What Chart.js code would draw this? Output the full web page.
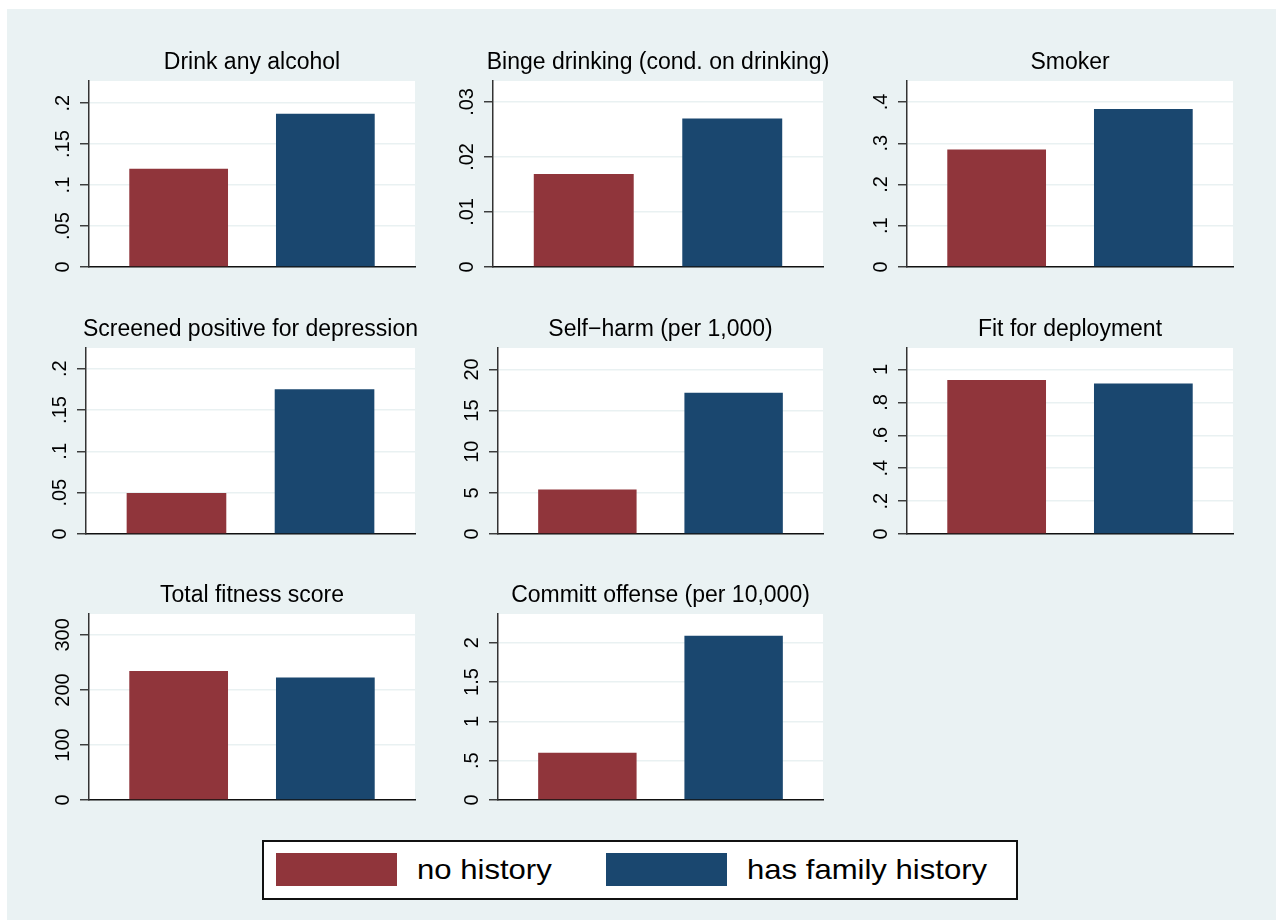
<!DOCTYPE html>
<html><head><meta charset="utf-8">
<script src="https://cdn.jsdelivr.net/npm/chart.js@4.4.1/dist/chart.umd.min.js"></script>
<style>
html,body{margin:0;padding:0;background:#fff;width:1276px;height:924px;overflow:hidden;position:relative;}
#bg{position:absolute;left:7px;top:9px;width:1269px;height:911px;background:#eaf2f3;}
canvas{position:absolute;}
#legend{position:absolute;left:262px;top:840px;width:756px;height:60px;background:#fff;border:2px solid #111;box-sizing:border-box;}
.sw{position:absolute;top:853px;width:121px;height:33px;}
.lt{position:absolute;font-family:'Liberation Sans',Arial,Helvetica,sans-serif;font-size:28px;line-height:28px;top:856px;color:#000;transform:scaleX(1.11);transform-origin:left center;white-space:nowrap;}
</style></head><body>
<div id="bg"></div>
<div id="legend"></div>
<script>
// ---- data ----
const panelTitles = ["Drink any alcohol", "Binge drinking (cond. on drinking)", "Smoker",
  "Screened positive for depression", "Self\u2212harm (per 1,000)", "Fit for deployment",
  "Total fitness score", "Committ offense (per 10,000)"];
const seriesNames = ["no history", "has family history"];
const noHistory     = [0.120, 0.0169, 0.285, 0.0496, 5.4, 0.937, 234.5, 0.602];
const familyHistory = [0.187, 0.0270, 0.383, 0.175, 17.15, 0.915, 222.4, 2.09];
const yMax = [0.227, 0.0338, 0.451, 0.225, 22.6, 1.131, 338, 2.366];
const tickValues = [
  [0, .05, .1, .15, .2], [0, .01, .02, .03], [0, .1, .2, .3, .4],
  [0, .05, .1, .15, .2], [0, 5, 10, 15, 20], [0, .2, .4, .6, .8, 1],
  [0, 100, 200, 300], [0, .5, 1, 1.5, 2]];
const tickLabels = [
  ["0", ".05", ".1", ".15", ".2"], ["0", ".01", ".02", ".03"], ["0", ".1", ".2", ".3", ".4"],
  ["0", ".05", ".1", ".15", ".2"], ["0", "5", "10", "15", "20"], ["0", ".2", ".4", ".6", ".8", "1"],
  ["0", "100", "200", "300"], ["0", ".5", "1", "1.5", "2"]];
const colors = ["#90353b", "#1a476f"];

// ---- layout (styles / positions) ----
const FONT = "'Liberation Sans', Arial, Helvetica, sans-serif";
const plotLeft  = [89, 493, 907, 86, 498, 907, 89, 498];
const colRight  = [415, 823, 1233];
const rowTop    = [81, 348, 614];
const plotH = 186, A = 48, TITLE_H = 35, BOT = 25, TICK_FONT = 20;

const mctx = document.createElement('canvas').getContext('2d');
mctx.font = `normal ${TICK_FONT}px ${FONT}`;

const whiteArea = {
  id: 'whiteArea',
  beforeDraw(chart) {
    const {ctx, chartArea: a} = chart;
    ctx.save(); ctx.fillStyle = '#ffffff';
    ctx.fillRect(a.left, a.top, a.right - a.left, a.bottom - a.top);
    ctx.restore();
  }
};

panelTitles.forEach((title, i) => {
  const col = i % 3, row = Math.floor(i / 3);
  const L = plotLeft[i], R = colRight[col], T = rowTop[row];
  const cv = document.createElement('canvas');
  const W = (R - L) + 2 * A, H = TITLE_H + plotH + BOT;
  cv.width = W; cv.height = H;
  cv.style.left = (L - A) + 'px'; cv.style.top = (T - TITLE_H) + 'px';
  cv.style.width = W + 'px'; cv.style.height = H + 'px';
  document.body.appendChild(cv);

  const widest = Math.max(...tickLabels[i].map(s => mctx.measureText(s).width));
  const pad = 16.5 - widest / 2;
  const tv = tickValues[i], tl = tickLabels[i];

  new Chart(cv.getContext('2d'), {
    type: 'bar',
    data: {
      labels: [''],
      datasets: [
        {label: seriesNames[0], data: [noHistory[i]], backgroundColor: colors[0], borderWidth: 0},
        {label: seriesNames[1], data: [familyHistory[i]], backgroundColor: colors[1], borderWidth: 0}
      ]
    },
    options: {
      responsive: false, animation: false, devicePixelRatio: 1,
      layout: {padding: {left: 0, right: 0, top: 0, bottom: BOT}},
      datasets: {bar: {categoryPercentage: 0.9, barPercentage: 0.673}},
      plugins: {
        legend: {display: false}, tooltip: {enabled: false},
        title: {display: true, text: title, color: '#000', fullSize: true,
          font: {family: FONT, size: 23, weight: 'normal', lineHeight: 1},
          padding: {top: 5, bottom: 7}}
      },
      scales: {
        x: {type: 'category', display: true, z: 1,
          ticks: {display: false}, grid: {display: false, drawTicks: false},
          border: {display: true, color: '#111', width: 1.5}},
        y: {type: 'linear', position: 'left', min: 0, max: yMax[i],
          afterBuildTicks: s => { s.ticks = tv.map(v => ({value: v})); },
          afterFit: s => { s.width = A; },
          ticks: {minRotation: 90, maxRotation: 90, crossAlign: 'center', padding: pad,
            autoSkip: false, color: '#000', font: {family: FONT, size: TICK_FONT},
            callback: (v) => { const k = tv.indexOf(v); return k >= 0 ? tl[k] : ''; }},
          grid: {color: '#e9f1f2', lineWidth: 1.5, tickColor: '#333', tickWidth: 1.4, tickLength: 9},
          border: {display: true, color: '#333', width: 1.5}},
        y2: {type: 'linear', position: 'right', display: true,
          afterFit: s => { s.width = A; },
          ticks: {display: false}, grid: {display: false, drawTicks: false},
          border: {display: false}}
      }
    },
    plugins: [whiteArea]
  });
});

// ---- legend ----
const swLeft = [276, 606], txtLeft = [417, 747];
seriesNames.forEach((name, k) => {
  const sw = document.createElement('div');
  sw.className = 'sw'; sw.style.left = swLeft[k] + 'px'; sw.style.background = colors[k];
  document.body.appendChild(sw);
  const t = document.createElement('div');
  t.className = 'lt'; t.style.left = txtLeft[k] + 'px'; t.textContent = name;
  document.body.appendChild(t);
});
</script>
</body></html>
